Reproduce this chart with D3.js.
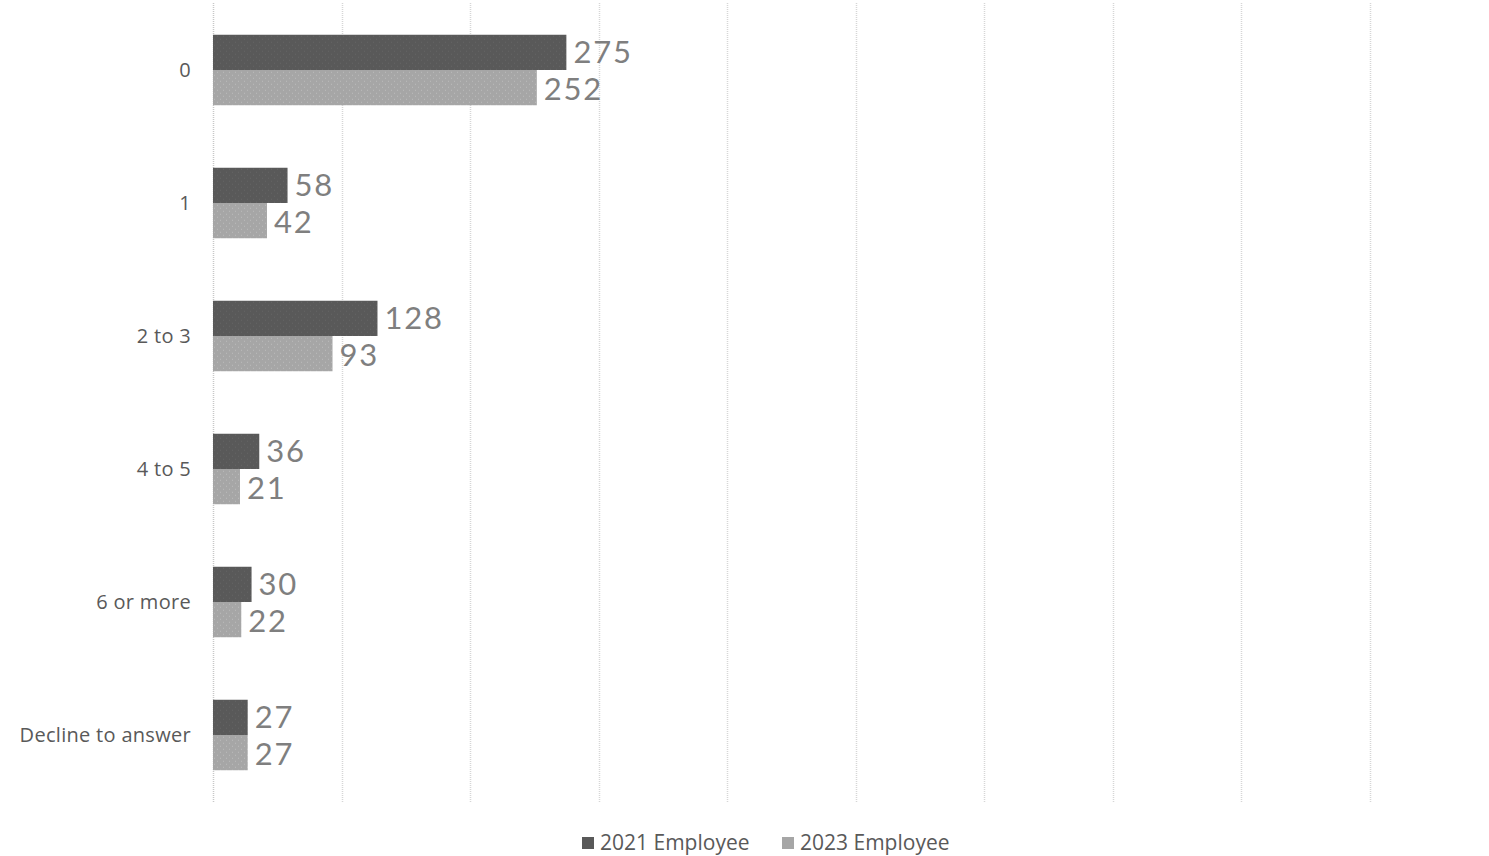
<!DOCTYPE html>
<html>
<head>
<meta charset="utf-8">
<script src="https://cdn.jsdelivr.net/npm/d3@7"></script>
<style>
  body { margin: 0; background: #fff; }
  svg { display: block; }
</style>
</head>
<body>
<div id="chart"></div>
<script>
var categories = ["0", "1", "2 to 3", "4 to 5", "6 or more", "Decline to answer"];
var seriesNames = ["2021 Employee", "2023 Employee"];
var values2021 = [275, 58, 128, 36, 30, 27];
var values2023 = [252, 42, 93, 21, 22, 27];
var xTicks = [0, 100, 200, 300, 400, 500, 600, 700, 800, 900];

var colors = ["#595959", "#a6a6a6"];
var width = 1489, height = 856;
var margin = { left: 213, top: 3.5, right: 0, bottom: 54.5 };

var svg = d3.select("#chart").append("svg")
	.attr("width", width)
	.attr("height", height);

// dotted texture on the bars
var defs = svg.append("defs");
colors.forEach(function (c, i) {
	var p = defs.append("pattern")
		.attr("id", "dots" + i)
		.attr("width", 6)
		.attr("height", 6)
		.attr("patternUnits", "userSpaceOnUse");
	p.append("rect").attr("width", 6).attr("height", 6).attr("fill", c);
	p.append("rect").attr("x", 1).attr("y", 1).attr("width", 1).attr("height", 1)
		.attr("fill", d3.color(c).brighter(0.35));
	p.append("rect").attr("x", 4).attr("y", 4).attr("width", 1).attr("height", 1)
		.attr("fill", d3.color(c).brighter(0.35));
});

var x = d3.scaleLinear()
	.domain([0, 1000])
	.range([margin.left, 1498]);

var y = d3.scaleBand()
	.domain(categories)
	.range([margin.top, height - margin.bottom])
	.paddingInner(0.47)
	.paddingOuter(0.235);

var y1 = d3.scaleBand()
	.domain(seriesNames)
	.range([0, y.bandwidth()]);

// gridlines
svg.append("g")
	.selectAll("line")
	.data(xTicks)
	.enter().append("line")
	.attr("x1", function (d) { return Math.round(x(d)) + 0.5; })
	.attr("x2", function (d) { return Math.round(x(d)) + 0.5; })
	.attr("y1", 3)
	.attr("y2", 802)
	.attr("stroke", function (d) { return d === 0 ? "#c8c8c8" : "#d6d6d6"; })
	.attr("stroke-width", 1.5)
	.attr("stroke-dasharray", "1,1");

var rows = categories.map(function (c, i) {
	return { cat: c, vals: [values2021[i], values2023[i]] };
});

var group = svg.append("g")
	.selectAll("g")
	.data(rows)
	.enter().append("g")
	.attr("transform", function (d) { return "translate(0," + y(d.cat) + ")"; });

group.selectAll("rect")
	.data(function (d) { return d.vals; })
	.enter().append("rect")
	.attr("x", x(0))
	.attr("y", function (d, i) { return y1(seriesNames[i]); })
	.attr("width", function (d) { return x(d) - x(0); })
	.attr("height", y1.bandwidth())
	.attr("fill", function (d, i) { return "url(#dots" + i + ")"; });

group.selectAll("text.val")
	.data(function (d) { return d.vals; })
	.enter().append("text")
	.attr("class", "val")
	.attr("x", function (d) { return x(d) + 7; })
	.attr("y", function (d, i) { return y1(seriesNames[i]) + y1.bandwidth() / 2 + (i === 0 ? -1 : 1); })
	.attr("dy", "0.36em")
	.attr("font-family", "Lato, 'Open Sans', sans-serif")
	.attr("font-size", 31)
	.attr("letter-spacing", 1.8)
	.attr("fill", "#7f7f7f")
	.text(function (d) { return d; });

// category axis labels
svg.append("g")
	.selectAll("text")
	.data(categories)
	.enter().append("text")
	.attr("x", 191)
	.attr("y", function (d) { return y(d) + y.bandwidth() / 2; })
	.attr("dy", "0.35em")
	.attr("text-anchor", "end")
	.attr("font-family", "'Open Sans', sans-serif")
	.attr("font-size", 20)
	.attr("letter-spacing", 0.3)
	.attr("fill", "#595959")
	.text(function (d) { return d; });

// legend
var legend = svg.append("g")
	.selectAll("g")
	.data(seriesNames)
	.enter().append("g")
	.attr("transform", function (d, i) { return "translate(" + (582 + i * 200) + ",843)"; });

legend.append("rect")
	.attr("x", 0)
	.attr("y", -6)
	.attr("width", 12)
	.attr("height", 12)
	.attr("fill", function (d, i) { return colors[i]; });

legend.append("text")
	.attr("x", 18)
	.attr("dy", "0.35em")
	.attr("font-family", "'Open Sans', sans-serif")
	.attr("font-size", 21)
	.attr("fill", "#595959")
	.text(function (d) { return d; });
</script>
</body>
</html>
